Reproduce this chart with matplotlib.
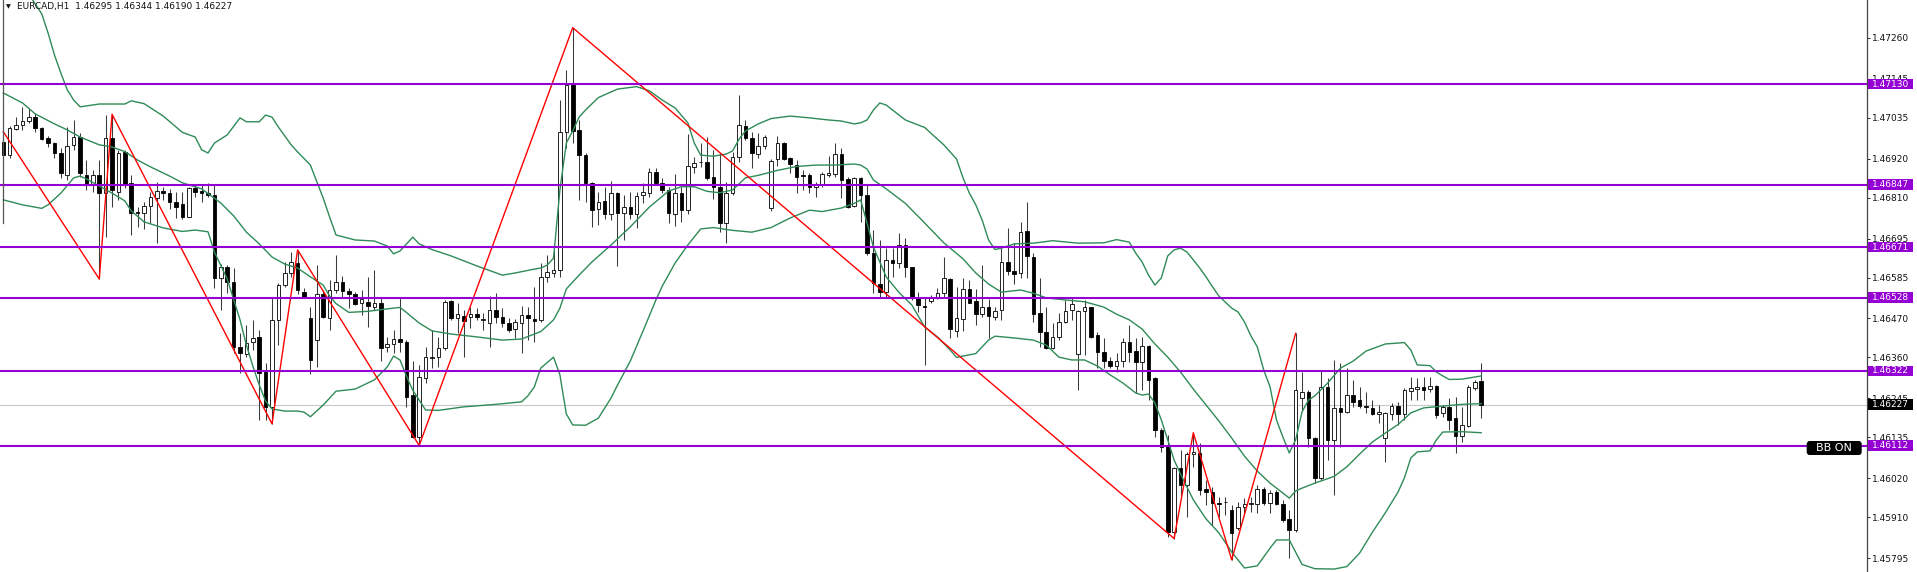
import numpy as np
import matplotlib
matplotlib.use("Agg")
import matplotlib.pyplot as plt
from matplotlib.patches import Rectangle, FancyBboxPatch
from matplotlib.transforms import blended_transform_factory

plt.rcParams['font.family'] = ['DejaVu Sans']

# ---------------- data (prices in points, 1 point = 0.00001) ----------------
symbol = "EURCAD,H1"
header_vals = ["1.46295", "1.46344", "1.46190", "1.46227"]

opens_pts = [
146968,146930,147003,147015,147027,147037,147006,146977,146963,146935,
146874,146959,146980,146874,146846,146874,146823,146977,146827,146940,
146852,146771,146766,146787,146808,146829,146824,146799,146792,146757,
146837,146829,146824,146818,146583,146616,146574,146390,146370,146405,
146417,146320,146221,146466,146564,146597,146627,146545,146470,146409,
146539,146470,146550,146574,146548,146539,146514,146517,146503,146514,
146389,146397,146411,146405,146254,146135,146301,146358,146361,146386,
146520,146470,146478,146473,146482,146467,146456,146494,146473,146458,
146439,146458,146480,146468,146466,146588,146597,146606,146996,147128,
147001,146930,146852,146777,146802,146764,146824,146766,146783,146764,
146818,146824,146883,146852,146832,146764,146823,146775,146897,146910,
146912,146869,146839,146738,146823,146926,147012,146977,146933,146956,
146780,146918,146963,146921,146902,146872,146874,146839,146849,146874,
146877,146933,146862,146787,146865,146818,146654,146567,146545,146635,
146625,146677,146614,146527,146505,146520,146530,146543,146580,146435,
146468,146552,146520,146482,146503,146475,146494,146630,146604,146597,
146717,146644,146484,146433,146386,146417,146461,146494,146370,146492,
146501,146423,146376,146351,146336,146351,146405,146379,146348,146392,
146301,146156,146111,145869,146048,146001,146088,146090,145990,145982,
145950,145953,145930,145879,145938,145948,145947,145989,145949,145982,
145947,145904,145874,146245,146264,146132,146020,146278,146128,146217,
146207,146254,146240,146223,146217,146201,146132,146201,146223,146201,
146266,146271,146278,146270,146280,146203,146220,146189,146139,146167,
146273,146295]

highs_pts = [
146978,147012,147037,147066,147063,147049,147010,146984,146968,146950,
147010,147029,146993,146916,146888,146916,147043,147045,146945,146945,
146874,146785,146799,146827,146855,146841,146834,146827,146827,146841,
146846,146846,146851,146846,146623,146620,146611,146428,146452,146466,
146437,146344,146527,146569,146630,146658,146663,146555,146501,146620,
146550,146578,146649,146590,146555,146545,146550,146588,146606,146531,
146419,146437,146527,146409,146351,146339,146390,146437,146419,146522,
146522,146513,146494,146503,146499,146484,146534,146543,146499,146470,
146468,146505,146503,146559,146625,146649,146663,147085,147170,147289,
147029,146935,146855,146827,146841,146858,146827,146818,146827,146827,
146851,146893,146893,146865,146841,146877,146841,146990,146926,146963,
146982,146945,146935,146855,146940,147099,147029,146996,146992,146987,
146918,146984,146968,146926,146916,146888,146879,146855,146883,146928,
146965,146949,146869,146869,146869,146846,146719,146691,146668,146668,
146710,146696,146616,146545,146531,146536,146555,146642,146583,146558,
146583,146578,146552,146620,146524,146503,146668,146724,146682,146743,
146799,146653,146583,146503,146456,146486,146522,146527,146494,146522,
146503,146433,146414,146362,146372,146414,146452,146414,146417,146395,
146306,146161,146142,146052,146099,146095,146148,146118,146015,145996,
145968,145968,145945,145954,145963,145968,146001,145996,145987,145987,
145959,145930,146428,146320,146268,146137,146325,146301,146353,146344,
146330,146297,146278,146264,146240,146226,146207,146231,146235,146273,
146304,146301,146306,146304,146283,146226,146245,146250,146221,146283,
146297,146344]

lows_pts = [
146916,146922,147001,147001,147021,146996,146973,146952,146921,146865,
146860,146945,146869,146832,146827,146581,146700,146785,146804,146837,
146705,146728,146721,146738,146682,146804,146777,146752,146749,146755,
146813,146799,146813,146555,146494,146541,146372,146315,146362,146381,
146184,146184,146173,146395,146559,146588,146539,146527,146313,146334,
146470,146437,146541,146531,146499,146508,146480,146447,146494,146351,
146376,146372,146376,146221,146132,146112,146287,146330,146334,146381,
146466,146428,146362,146442,146466,146437,146390,146456,146447,146433,
146414,146372,146409,146404,146461,146574,146588,146588,146949,146963,
146804,146799,146728,146733,146749,146747,146618,146691,146749,146724,
146794,146813,146846,146823,146740,146730,146743,146764,146879,146897,
146860,146806,146714,146683,146818,146912,146973,146893,146921,146946,
146774,146899,146916,146879,146823,146832,146823,146813,146841,146869,
146869,146808,146780,146783,146743,146649,146541,146530,146530,146588,
146611,146588,146522,146489,146339,146514,146524,146530,146414,146417,
146435,146513,146452,146475,146414,146466,146466,146592,146567,146583,
146583,146461,146390,146383,146383,146409,146456,146466,146268,146367,
146414,146330,146330,146330,146320,146334,146348,146259,146268,146240,
146135,146095,145853,145850,145973,145912,146052,145973,145945,145888,
145912,145916,145790,145874,145921,145926,145921,145945,145921,145945,
145897,145794,145869,146212,146109,146006,146015,146071,145973,146109,
146203,146221,146217,146203,146198,146175,146066,146184,146170,146184,
146240,146240,146240,146264,146189,146193,146156,146090,146123,146165,
146268,146190]

closes_pts = [
146930,147006,147015,147027,147037,147006,146975,146963,146935,146879,
146956,146980,146879,146846,146874,146823,146977,146832,146935,146846,
146766,146766,146787,146813,146829,146823,146799,146785,146755,146837,
146827,146824,146818,146583,146616,146574,146390,146372,146402,146414,
146315,146221,146466,146564,146597,146630,146550,146531,146353,146539,
146473,146550,146574,146548,146539,146511,146524,146505,146514,146386,
146397,146411,146405,146250,146135,146304,146362,146362,146386,146517,
146470,146482,146464,146482,146475,146467,146494,146475,146458,146437,
146459,146481,146470,146464,146588,146602,146606,146996,147128,146999,
146930,146851,146775,146799,146764,146824,146766,146783,146764,146815,
146827,146883,146852,146832,146766,146824,146775,146899,146909,146911,
146865,146839,146738,146823,146926,147015,146977,146935,146956,146980,
146914,146963,146918,146905,146869,146871,146839,146849,146877,146879,
146933,146860,146785,146865,146818,146654,146569,146545,146635,146625,
146677,146616,146527,146508,146501,146530,146543,146583,146439,146470,
146552,146514,146482,146503,146477,146492,146630,146604,146595,146714,
146646,146482,146433,146386,146417,146461,146492,146511,146492,146501,
146417,146376,146351,146336,146351,146405,146376,146348,146392,146297,
146156,146109,145869,146048,146001,146088,146095,145987,145982,145949,
145949,145953,145865,145940,145947,145948,145989,145951,145977,145947,
145902,145874,146268,146264,146132,146020,146278,146128,146217,146207,
146254,146235,146223,146220,146201,146206,146205,146223,146201,146268,
146273,146278,146268,146280,146198,146220,146184,146139,146170,146278,
146292,146227]

# Bollinger bands (bar index, price points)
bb_up_i = [0,3,5,6,7,8,9,10,11,12,15,19,20,22,25,28,30,31,32,33,35,37,38,40,41,42,43,45,46,48,
           50,51,52,55,58,60,61,62,64,65,67,70,74,78,80,83,84,85,86,87,88,89,90,91,93,96,99,101,103,105,
           107,108,109,111,113,114,115,116,118,120,123,126,129,131,133,134,135,136,137,138,141,144,147,148,149,
           150,151,152,153,154,155,156,158,161,164,168,172,174,176,177,178,179,180,181,182,183,184,185,186,
           187,188,189,190,191,192,193,194,195,196,197,198,199,200,201,202,203,204,205,207,209,211,213,216,
           219,220,221,223,224,225,226,228,231]
bb_up_pts = [147494,147409,147356,147328,147274,147212,147161,147114,147085,147066,147074,147074,147083,147075,
             147040,146994,146981,146945,146936,146964,146987,147035,147024,147024,147043,147037,147009,146959,
             146939,146902,146809,146756,146705,146691,146688,146674,146652,146660,146699,146680,146664,146646,
             146618,146592,146598,146609,146612,146620,146640,146832,146964,146998,147037,147057,147092,147116,
             147123,147111,147085,147063,147021,146964,146930,146927,146933,146942,146975,146998,147018,147033,
             147040,147035,147029,147026,147018,147021,147029,147057,147077,147071,147029,147008,146959,146939,
             146919,146866,146823,146790,146747,146691,146664,146668,146680,146682,146689,146682,146683,146692,
             146685,146654,146629,146592,146564,146584,146646,146663,146668,146657,146635,146612,146587,146559,
             146533,146516,146499,146488,146460,146421,146390,146325,146277,146184,146136,146091,146128,146207,
             146240,146252,146288,146330,146350,146378,146398,146402,146381,146339,146337,146319,146308,146298,
             146299,146308]

bb_mid_i = [0,3,5,8,10,12,15,17,19,21,23,26,28,31,34,36,38,40,42,44,46,48,50,51,52,54,57,60,62,63,
            65,67,70,74,78,81,84,85,86,87,88,90,92,95,98,101,104,106,108,110,112,114,116,118,121,124,127,130,
            133,134,135,136,138,141,144,147,150,152,154,156,159,161,163,166,169,172,174,176,178,180,182,184,
            186,188,190,192,194,196,198,200,201,202,203,205,208,210,212,214,216,218,220,222,225,228,231]
bb_mid_pts = [147105,147077,147046,147018,147001,146981,146959,146953,146940,146916,146897,146871,146852,
              146835,146795,146759,146713,146680,146643,146623,146612,146587,146564,146533,146512,146487,
              146490,146497,146501,146487,146457,146435,146426,146418,146409,146412,146433,146449,146466,
              146499,146553,146592,146629,146677,146728,146784,146829,146841,146841,146828,146824,146832,
              146866,146873,146887,146898,146902,146902,146905,146902,146891,146860,146835,146794,146739,
              146683,146638,146598,146567,146544,146550,146541,146528,146522,146517,146502,146482,146466,
              146440,146398,146361,146319,146271,146226,146181,146133,146082,146040,146006,145978,145964,
              145984,145992,146006,146025,146052,146088,146122,146147,146171,146204,146218,146223,146228,
              146230]

bb_lo_i = [0,3,6,7,9,11,12,13,15,17,19,20,22,25,28,30,32,33,35,37,38,39,40,41,42,44,46,47,48,50,
           52,55,58,60,61,62,63,64,66,68,72,77,81,82,83,84,86,87,88,89,91,93,95,96,98,100,102,103,105,107,
           109,111,114,117,120,123,126,128,131,133,134,135,136,138,140,142,144,146,148,149,150,152,154,155,
           158,161,163,165,167,169,171,173,175,177,178,179,180,181,182,183,184,186,188,190,192,194,196,198,
           199,201,203,205,208,210,212,214,216,218,219,220,221,223,224,225,228,231]
bb_lo_pts = [146804,146790,146780,146790,146823,146866,146871,146863,146843,146823,146801,146773,146742,
             146725,146715,146719,146714,146657,146581,146466,146395,146336,146283,146237,146215,146209,
             146209,146206,146193,146226,146265,146271,146297,146333,146364,146353,146308,146268,146212,
             146211,146221,146228,146235,146252,146277,146330,146361,146311,146201,146170,146169,146189,
             146246,146282,146350,146435,146522,146561,146626,146677,146722,146726,146718,146713,146726,
             146753,146775,146771,146781,146794,146804,146739,146671,146587,146543,146508,146446,146418,
             146381,146360,146364,146371,146409,146420,146415,146409,146395,146361,146353,146353,146336,
             146311,146288,146260,146254,146257,146232,146184,146128,146071,146032,145959,145905,145866,
             145812,145767,145773,145823,145846,145846,145777,145765,145764,145771,145809,145868,145922,
             145981,146021,146077,146094,146097,146128,146150,146151,146148]

# ZigZag pivots (bar index, price)
zz_i = [0, 15, 17, 42, 46, 65, 89, 183, 186, 192, 202]
zz_price = [1.46996, 1.46581, 1.47045, 1.46173, 1.46663, 1.46112, 1.47289, 1.45850, 1.46148, 1.45790, 1.46428]

# Horizontal levels and current price
levels = [1.47130, 1.46847, 1.46671, 1.46528, 1.46322, 1.46112]
current_price = 1.46227
tick_vals = [1.47260, 1.47145, 1.47035, 1.46920, 1.46810, 1.46695, 1.46585,
             1.46470, 1.46360, 1.46245, 1.46135, 1.46020, 1.45910, 1.45795]

# ---------------- figure ----------------
W, H = 1917, 572
fig = plt.figure(figsize=(W / 100, H / 100), dpi=100)
fig.patch.set_facecolor('white')
ax = fig.add_axes([0, 0, 1867 / W, 1])
ax.set_facecolor('white')
ax.set_autoscale_on(False)

o = np.array(opens_pts) / 1e5
h = np.array(highs_pts) / 1e5
l = np.array(lows_pts) / 1e5
c = np.array(closes_pts) / 1e5
h = np.maximum(h, np.maximum(o, c))
l = np.minimum(l, np.minimum(o, c))
x = np.arange(len(o))
bull = c >= o

ymin, ymax = 1.457557, 1.473670
ax.set_xlim(-0.516, 291.3)
ax.set_ylim(ymin, ymax)

# current price (bid) line
ax.axhline(current_price, color='#c8c8c8', lw=0.8, zorder=1)

# candles
ax.vlines(x, l, h, color='#3a3a3a', lw=0.75, zorder=2)
min_h = 0.000025
body_h = np.abs(c - o)
body_bot = np.minimum(o, c)
small = body_h < min_h
body_bot = np.where(small, (o + c) / 2 - min_h / 2, body_bot)
body_h = np.where(small, min_h, body_h)
ax.bar(x, body_h, bottom=body_bot, width=0.56,
       color=np.where(bull, 'white', 'black'), edgecolor='black',
       linewidth=0.6, zorder=3)

# Bollinger bands
bb_col = '#2E8B57'
ax.plot(bb_up_i, np.array(bb_up_pts) / 1e5, color=bb_col, lw=1.0, zorder=4)
ax.plot(bb_mid_i, np.array(bb_mid_pts) / 1e5, color=bb_col, lw=1.0, zorder=4)
ax.plot(bb_lo_i, np.array(bb_lo_pts) / 1e5, color=bb_col, lw=1.0, zorder=4)

# ZigZag
ax.plot(zz_i, zz_price, color='#ff0000', lw=1.0, zorder=4.5)

# horizontal levels
purple = '#9400D3'
for p in levels:
    ax.axhline(p, color=purple, lw=1.5, zorder=5)

# axes styling
for s in ['left', 'top', 'bottom']:
    ax.spines[s].set_visible(False)
ax.spines['right'].set_color('#444444')
ax.spines['right'].set_linewidth(0.9)
ax.set_xticks([])
ax.yaxis.tick_right()
ax.set_yticks(tick_vals)
ax.set_yticklabels([f"{v:.5f}" for v in tick_vals])
ax.tick_params(axis='y', length=2.2, width=0.7, pad=1.3, labelsize=6.5,
               colors='#222222', labelcolor='#111111')

# price boxes on the axis
trans = blended_transform_factory(ax.transAxes, ax.transData)
box_h = 10.7 / H * (ymax - ymin)
box_w = 45.5 / 1867
for p in levels:
    ax.add_patch(Rectangle((1.0003, p - box_h / 2), box_w, box_h, transform=trans,
                           facecolor=purple, edgecolor='none', clip_on=False, zorder=7))
    ax.text(1.0003 + box_w / 2, p, f"{p:.5f}", transform=trans, color='white',
            fontsize=6.5, ha='center', va='center', clip_on=False, zorder=8)
ax.add_patch(Rectangle((1.0003, current_price - box_h / 2), box_w, box_h, transform=trans,
                       facecolor='black', edgecolor='none', clip_on=False, zorder=7))
ax.text(1.0003 + box_w / 2, current_price, f"{current_price:.5f}", transform=trans,
        color='white', fontsize=6.5, ha='center', va='center', clip_on=False, zorder=8)

# overlay for header, frame mark and label
ov = fig.add_axes([0, 0, 1, 1], zorder=10)
ov.set_xlim(0, W)
ov.set_ylim(H, 0)
ov.axis('off')
ov.patch.set_alpha(0)
ov.plot([2.5, 2.5], [0, 223], color='#555555', lw=0.9)
ov.text(6, 6.5, '\u25BC', fontsize=4.5, ha='left', va='center', color='#111111')
ov.text(17, 6.5, symbol + '  ' + ' '.join(header_vals), fontsize=6.5,
        ha='left', va='center', color='#111111')
ov.add_patch(FancyBboxPatch((1806.7, 441), 55, 14,
                            boxstyle='round,pad=0,rounding_size=3',
                            facecolor='black', edgecolor='none'))
ov.text(1834.2, 448.3, 'BB ON', fontsize=8, ha='center', va='center', color='white')

fig.savefig('out.png', dpi=100, facecolor='white')
